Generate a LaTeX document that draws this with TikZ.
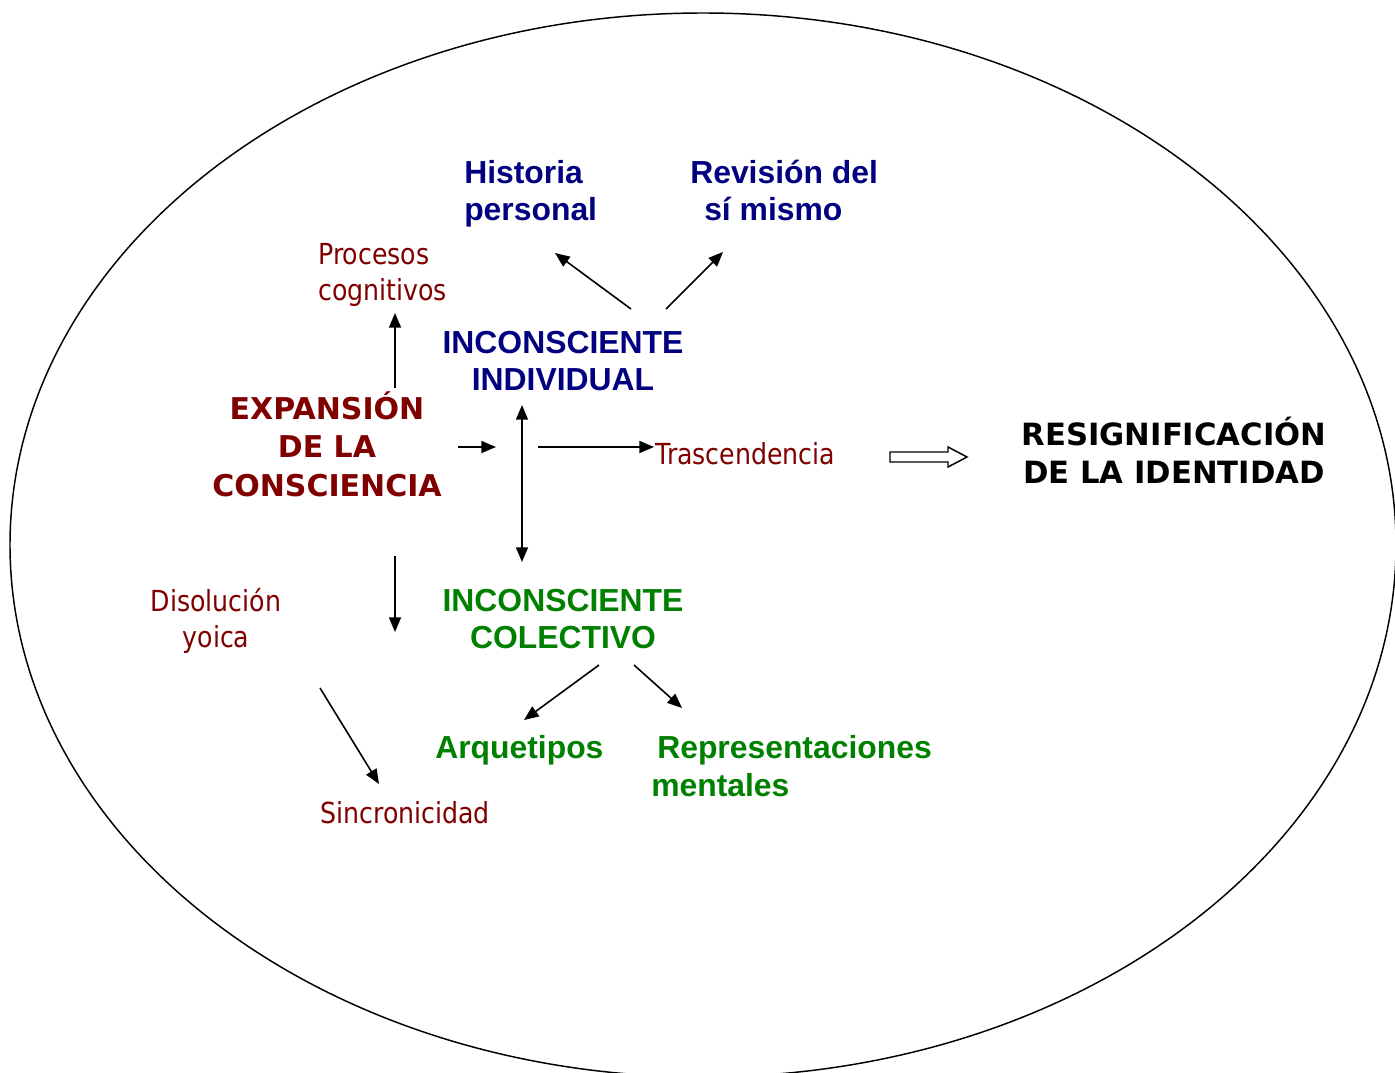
\documentclass[tikz,border=0pt]{standalone}
\usepackage{fontspec}
\setmainfont{Liberation Sans}
\newfontfamily\tahoma{DejaVu Sans}[FakeStretch=0.87]
\newfontfamily\tahomab{DejaVu Sans}
\usetikzlibrary{arrows.meta}
\definecolor{navy}{RGB}{0,0,128}
\definecolor{maroon}{RGB}{128,0,0}
\definecolor{dgreen}{RGB}{0,128,0}
\begin{document}
\begin{tikzpicture}[x=0.75pt,y=-0.75pt,
  blue/.style={text=navy,font=\fontsize{23.9}{27.75}\selectfont\bfseries,inner sep=0pt},
  green/.style={text=dgreen,font=\fontsize{23.9}{28}\selectfont\bfseries,inner sep=0pt},
  redb/.style={text=maroon,font=\tahomab\fontsize{22.5}{29}\selectfont\bfseries,inner sep=0pt,align=center},
  blackb/.style={text=black,font=\tahomab\fontsize{23}{28.5}\selectfont\bfseries,inner sep=0pt,align=center},
  redr/.style={text=maroon,font=\tahoma\fontsize{21.75}{27}\selectfont,inner sep=0pt},
  arr/.style={-{Triangle[length=11pt,width=9pt]},line width=1.2pt},
  darr/.style={{Triangle[length=11pt,width=9pt]}-{Triangle[length=11pt,width=9pt]},line width=1.2pt}]
\useasboundingbox (0,0) rectangle (1395,1073);
\clip (0,0) rectangle (1395,1073);
\draw[line width=1.1pt] (703,545) ellipse [x radius=693, y radius=532];

% texts
\node[blue,align=left,anchor=west] (hist) at (464,194) {Historia\\personal};
\node[blue,align=left,anchor=west] (rev) at (690,190) {Revisi\'on del\\\hspace*{10.5pt}s\'i mismo};
\node[blue,align=center] (ind) at (563,361) {INCONSCIENTE\\INDIVIDUAL};
\node[redr,align=left,anchor=west] (proc) at (318,275) {Procesos\\cognitivos};
\node[redb] (exp) at (327,444) {EXPANSI\'ON\\DE LA\\CONSCIENCIA};
\node[redr,anchor=west] (tras) at (655,454) {Trascendencia};
\node[blackb] (resig) at (1174,450) {RESIGNIFICACI\'ON\\DE LA IDENTIDAD};
\node[redr,align=center] (dis) at (216,621) {Disoluci\'on\\yoica};
\node[green,align=center] (col) at (563,619) {INCONSCIENTE\\COLECTIVO};
\node[green,anchor=west] (arq) at (435,750) {Arquetipos};
\node[green,align=left,anchor=west] (rep) at (651,766) {\hspace*{4.5pt}Representaciones\\mentales};
\node[redr,anchor=west] (sin) at (320,813) {Sincronicidad};

% connector end points
\coordinate (a1s) at (395,388); \coordinate (a1e) at (395,313);
\coordinate (a2s) at (631,309); \coordinate (a2e) at (555,253);
\coordinate (a3s) at (666,309); \coordinate (a3e) at (723,252);
\coordinate (a4s) at (458,447); \coordinate (a4e) at (496,447);
\coordinate (a5s) at (522,405); \coordinate (a5e) at (522,562);
\coordinate (a6s) at (538,447); \coordinate (a6e) at (654,447);
\coordinate (a8s) at (395,556); \coordinate (a8e) at (395,632);
\coordinate (a9s) at (320,688); \coordinate (a9e) at (379,784);
\coordinate (a10s) at (599,665); \coordinate (a10e) at (524,720);
\coordinate (a11s) at (634,665); \coordinate (a11e) at (682,708);

\draw[arr] (a1s) -- (a1e);
\draw[arr] (a2s) -- (a2e);
\draw[arr] (a3s) -- (a3e);
\draw[arr] (a4s) -- (a4e);
\draw[darr] (a5s) -- (a5e);
\draw[arr] (a6s) -- (a6e);
\draw[arr] (a8s) -- (a8e);
\draw[arr] (a9s) -- (a9e);
\draw[arr] (a10s) -- (a10e);
\draw[arr] (a11s) -- (a11e);

% hollow arrow
\draw[line width=1.1pt,fill=white,line join=miter]
  (890,452) -- (948,452) -- (948,447) -- (967,457) -- (948,467) -- (948,462) -- (890,462) -- cycle;
\end{tikzpicture}
\end{document}
